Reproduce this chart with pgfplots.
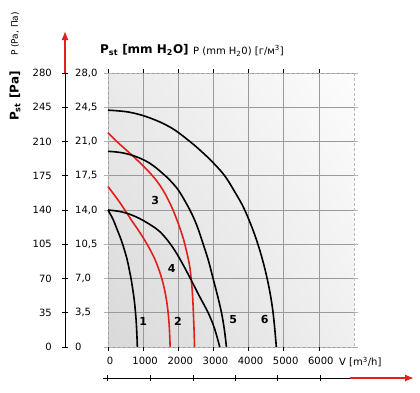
\documentclass[border=0pt]{standalone}
\usepackage{fontspec}
\setmainfont{DejaVu Sans}
\usepackage{pgfplots}
\pgfplotsset{compat=1.18}
\usetikzlibrary{arrows.meta,shadings}
\definecolor{cred}{HTML}{E0201B}
\definecolor{gridc}{HTML}{9A9A9A}
\begin{document}
\begin{tikzpicture}[x=1pt,y=1pt]
\path[use as bounding box] (0,0) rectangle (420,392);
\begin{axis}[
  at={(108pt,45pt)}, anchor=south west, scale only axis,
  width=246pt, height=274pt,
  xmin=0, xmax=7000, ymin=0, ymax=28,
  xtick={0,1000,2000,3000,4000,5000,6000},
  ytick={0,3.5,7,10.5,14,17.5,21,24.5,28},
  xticklabels={0,1000,2000,3000,4000,5000,6000},
  yticklabels={0,{3,5},{7,0},{10,5},{14,0},{17,5},{21,0},{24,5},{28,0}},
  /pgf/number format/assume math mode=true,
  ticklabel style={font=\fontsize{10}{12}\selectfont},
  yticklabel style={anchor=west, inner sep=0pt, xshift=-29pt},
  xticklabel style={xshift=2pt, yshift=-3pt},
  tick align=outside, major tick length=4pt,
  xtick style={black, line width=0.6pt},
  ytick style={gray!60, line width=0.6pt},
  axis line style={gray!55, dash pattern=on 3pt off 2pt, line width=0.6pt},
  grid=major,
  grid style={gridc, line width=0.6pt},
  axis background/.style={shade, lower left=black!15, upper left=black!8, lower right=black!6, upper right=black!1},
  clip=false,
]
% curve 1
\addplot[black, line width=1.6pt, smooth, tension=0.6] coordinates {
(0,14) (150,13) (260,12) (370,11) (460,10) (540,9) (600,8) (655,7) (700,6) (740,5) (770,4) (795,3) (812,2) (825,1) (835,0)};
% curve 2
\addplot[cred, line width=1.6pt, smooth, tension=0.6] coordinates {
(0,16.4) (290,15) (480,14) (660,13) (850,12) (1030,11) (1190,10) (1330,9) (1440,8) (1530,7) (1600,6) (1655,5) (1695,4) (1725,3) (1745,2) (1758,1) (1768,0)};
% curve 3
\addplot[cred, line width=1.6pt, smooth, tension=0.6] coordinates {
(0,21.9) (250,21) (560,20) (860,19) (1140,18) (1380,17) (1570,16) (1720,15) (1850,14) (1960,13) (2060,12) (2150,11) (2220,10) (2285,9) (2335,8) (2365,7) (2392,6) (2410,5) (2424,4) (2435,3) (2446,2) (2455,1) (2462,0)};
% curve 4
\addplot[black, line width=1.6pt, smooth, tension=0.6] coordinates {
(0,14) (400,13.8) (800,13.3) (1200,12.5) (1500,11.7) (1800,10.4) (2045,9.0) (2330,7.1) (2600,5.2) (2850,3.5) (3030,1.9) (3180,0)};
% curve 5
\addplot[black, line width=1.6pt, smooth, tension=0.6] coordinates {
(0,20) (400,19.85) (800,19.45) (1200,18.75) (1600,17.6) (1850,16.7) (2045,15.8) (2330,14.0) (2530,12.4) (2710,10.5) (2860,8.8) (2990,7.0) (3120,5.2) (3230,3.5) (3310,1.8) (3370,0)};
% curve 6
\addplot[black, line width=1.6pt, smooth, tension=0.6] coordinates {
(0,24.2) (600,24.0) (1200,23.4) (1800,22.4) (2330,21.0) (2700,19.85) (3000,18.8) (3320,17.5) (3600,15.9) (3890,14.0) (4220,11.0) (4490,7.6) (4680,4.0) (4790,0)};
\node[font=\bfseries\fontsize{11}{13}\selectfont] at (axis cs:1000,2.6) {1};
\node[font=\bfseries\fontsize{11}{13}\selectfont] at (axis cs:1990,2.6) {2};
\node[font=\bfseries\fontsize{11}{13}\selectfont] at (axis cs:1340,15.0) {3};
\node[font=\bfseries\fontsize{11}{13}\selectfont] at (axis cs:1810,8.0) {4};
\node[font=\bfseries\fontsize{11}{13}\selectfont] at (axis cs:3560,2.8) {5};
\node[font=\bfseries\fontsize{11}{13}\selectfont] at (axis cs:4460,2.8) {6};
\end{axis}
% left pressure scale
\draw[black, line width=0.8pt] (65,45) -- (65,319.5);
\draw[cred, line width=1.3pt, -{Latex[length=9pt,width=7pt]}] (65,319) -- (65,361);
\foreach \k in {0,...,8} \draw[black, line width=0.6pt] (62,{45+34.25*\k}) -- (68,{45+34.25*\k});
\foreach \v [count=\k from 0] in {0,35,70,105,140,175,210,245,280}
  \node[anchor=east, inner sep=0pt, font=\fontsize{10}{12}\selectfont] at (52,{45+34.25*\k}) {\v};
% bottom flow axis
\draw[black, line width=0.8pt] (103,14) -- (351,14);
\draw[cred, line width=1.3pt, -{Latex[length=9pt,width=7pt]}] (350,14) -- (414,14);
\foreach \x in {107,150,193,235,277,320} \draw[black, line width=0.6pt] (\x,11) -- (\x,17);
% titles
\node[rotate=90, font=\bfseries\fontsize{12}{14}\selectfont] at (15,296) {P\textsubscript{st} [Pa]};
\node[rotate=90, font=\fontsize{9}{11}\selectfont] at (15,358) {P (Pa, Па)};
\node[anchor=west, inner sep=0pt, font=\bfseries\fontsize{12}{14}\selectfont] at (100,342) {P\textsubscript{st} [mm H\textsubscript{2}O]};
\node[anchor=west, inner sep=0pt, font=\fontsize{10}{12}\selectfont] at (193,341) {P (mm H\textsubscript{2}0) [г/м\textsuperscript{3}]};
\node[anchor=west, inner sep=0pt, font=\fontsize{10}{12}\selectfont] at (339,30) {V [m\textsuperscript{3}/h]};
\end{tikzpicture}
\end{document}
